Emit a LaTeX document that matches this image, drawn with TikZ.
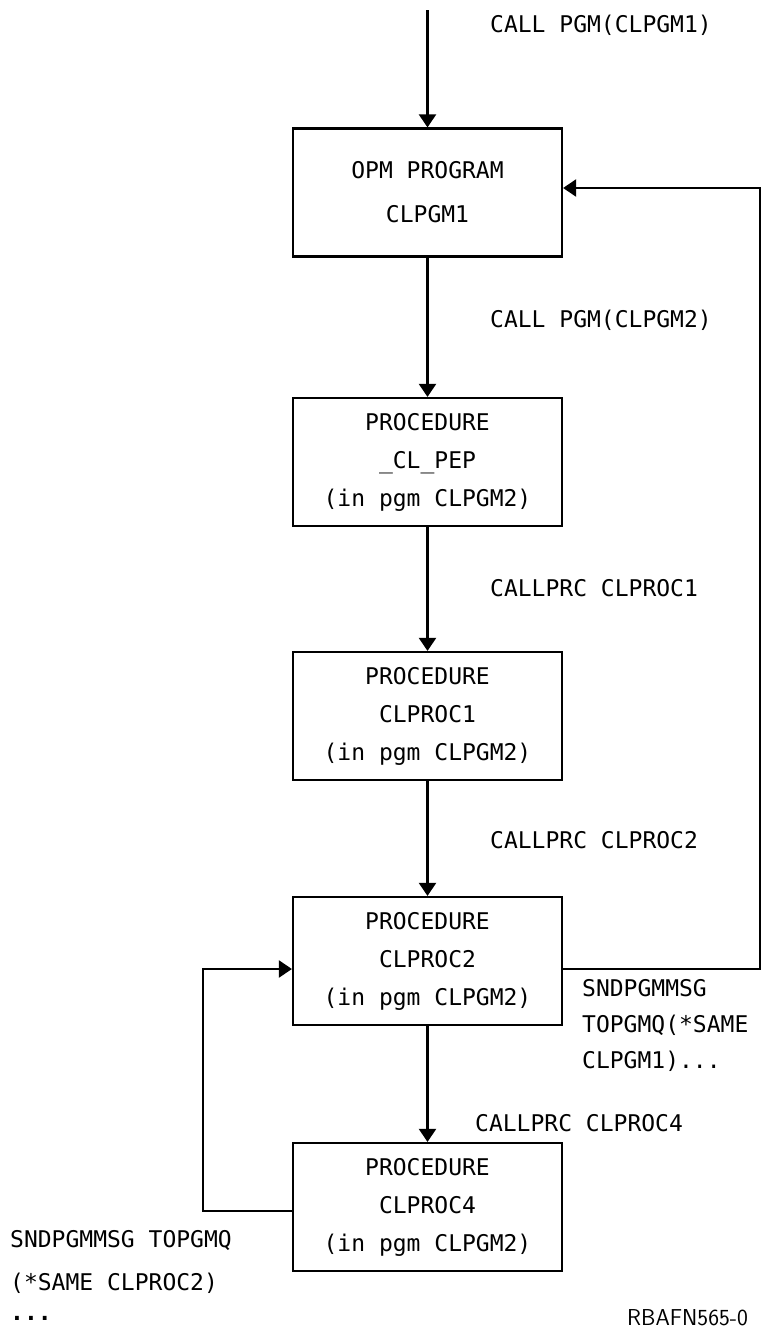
\documentclass[tikz,border=0pt]{standalone}
\usepackage{fontspec}
\setmonofont{DejaVu Sans Mono}
\usetikzlibrary{arrows.meta}
\tikzset{
  procbox/.style={draw, line width=2.2pt, minimum width=269pt, minimum height=128pt,
    inner sep=0pt, align=center, font=\ttfamily\fontsize{23}{38}\selectfont},
  note/.style={anchor=west, inner sep=0pt, font=\ttfamily\fontsize{23}{38}\selectfont},
  flow/.style={line width=2.2pt, -{Triangle[width=17pt,length=13pt]}}
}
\begin{document}
\begin{tikzpicture}[x=1pt,y=-1pt]
\useasboundingbox (0,0) rectangle (764,1331);

 \node[procbox] (pgm1)  at (427.5,192.5) {OPM PROGRAM\\[6pt]CLPGM1};
 \node[procbox] (pep)   at (427.5,462)   {PROCEDURE\\\_CL\_PEP\\(in pgm CLPGM2)};
 \node[procbox] (proc1) at (427.5,716)   {PROCEDURE\\CLPROC1\\(in pgm CLPGM2)};
 \node[procbox] (proc2) at (427.5,961)   {PROCEDURE\\CLPROC2\\(in pgm CLPGM2)};
 \node[procbox] (proc4) at (427.5,1207)  {PROCEDURE\\CLPROC4\\(in pgm CLPGM2)};

 \coordinate (start) at (427.5,10);
 \coordinate (r1) at (760,969);   % corner of the right loop
 \coordinate (r2) at (760,188);
 \coordinate (l1) at (203,1211);  % corner of the left loop
 \coordinate (l2) at (203,969);

% ARROWS

\draw[flow] (start) -- (pgm1.north);
\draw[flow] (pgm1) -- (pep);
\draw[flow] (pep) -- (proc1);
\draw[flow] (proc1) -- (proc2);
\draw[flow] (proc2) -- (proc4);

\draw[flow] (proc2.east |- r1) -- (r1) -- (r2) -- (pgm1.east |- r2);
\draw[flow] (proc4.west |- l1) -- (l1) -- (l2) -- (proc2.west |- l2);

% NOTES
\draw (490,25)   node[note] (n1) {CALL PGM(CLPGM1)};
\draw (490,320)  node[note] (n2) {CALL PGM(CLPGM2)};
\draw (490,588)  node[note] (n3) {CALLPRC CLPROC1};
\draw (490,840)  node[note] (n4) {CALLPRC CLPROC2};
\draw (582,988)  node[note] (n5) {SNDPGMMSG};
\draw (582,1025) node[note] (n6) {TOPGMQ(*SAME};
\draw (582,1061) node[note] (n7) {CLPGM1)...};
\draw (475,1123) node[note] (n8) {CALLPRC CLPROC4};
\draw (10,1240)  node[note] (n9) {SNDPGMMSG TOPGMQ};
\draw (10,1283)  node[note] (n10) {(*SAME CLPROC2)};
\draw (10,1318)  node[note, font=\ttfamily\bfseries\fontsize{23}{38}\selectfont] (n11) {...};
\draw (627,1318) node[note, font=\sffamily\fontsize{23}{26}\selectfont] (id) {RBAFN565-0};

\end{tikzpicture}
\end{document}
